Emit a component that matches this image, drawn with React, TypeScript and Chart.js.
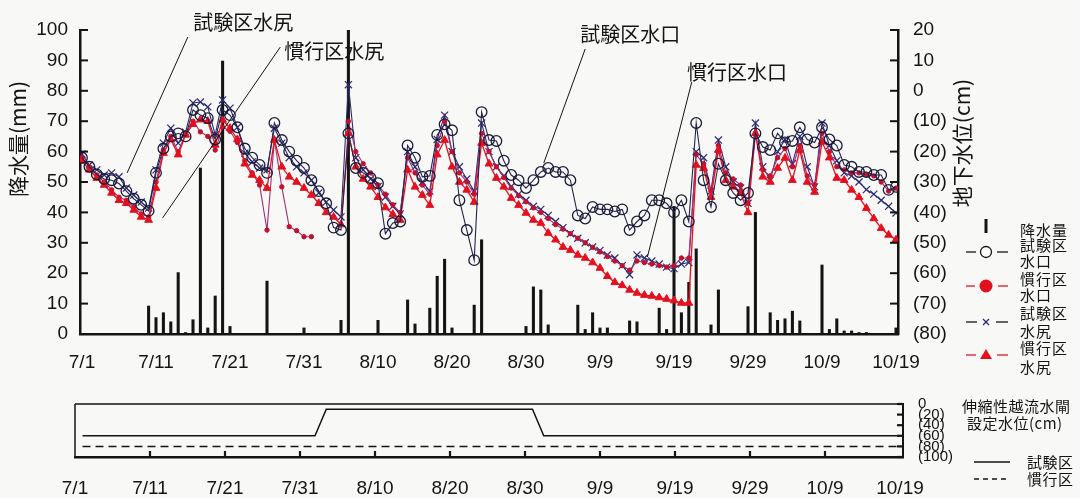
import React, { useEffect, useRef } from 'react';
import { Chart, registerables } from 'chart.js';

Chart.register(...registerables);

// ---------- data ----------
const TICK_DAYS = [0, 10, 20, 30, 40, 50, 60, 70, 80, 90, 100, 110];
const DATE_LABELS = ['7/1', '7/11', '7/21', '7/31', '8/10', '8/20', '8/30', '9/9', '9/19', '9/29', '10/9', '10/19'];

const RAIN_DAYS = [9, 10, 11, 12, 13, 14, 15, 16, 17, 18, 19, 20, 25, 30, 35, 36, 40, 44, 45, 47, 48, 49, 50, 53, 54, 60, 61, 62, 63, 67, 68, 69, 70, 71, 74, 75, 78, 79, 80, 81, 82, 83, 85, 86, 90, 91, 93, 94, 95, 96, 97, 100, 101, 102, 103, 104, 105, 106, 110];
const RAIN_MM = [9.2, 5.4, 7, 4, 20.2, 0.5, 4.7, 54.6, 2, 12.5, 89.8, 2.5, 17.4, 2, 4.5, 100, 4.5, 11.2, 3.3, 8.5, 19, 24.6, 2, 9.5, 31, 2.5, 15.5, 14.5, 3, 9.5, 1.5, 7, 2, 2, 4.3, 4, 8.5, 1.5, 42, 7, 17, 28, 3, 14.5, 9, 40, 7, 4.5, 5, 7.5, 4.3, 22.7, 1.5, 5, 1, 1, 0.5, 0.5, 2];

// groundwater level (cm), one value per day from 7/1 (day 0) to 10/19 (day 110)
const TEST_INLET = [
  -22, -25, -27.5, -29, -29.4, -30.5, -33, -35.5, -37.5, -39.5,
  -27, -19, -15, -14, -15, -6.3, -8, -9, -16, -6.3,
  -8, -12, -19, -22, -24.4, -27, -10.6, -16.2, -20, -23,
  -25.4, -29.4, -33, -37, -45, -45.8, -14, -25.4, -27, -28.7,
  -30.4, -47, -43.5, -43, -18, -22, -28.3, -28, -14.5, -11,
  -13, -36, -45.8, -55.7, -7, -16.2, -16.5, -23, -27.7, -29.4,
  -32, -29.4, -26.7, -25.4, -26.7, -26.7, -29.4, -41, -42, -38.2,
  -39, -39, -39.7, -39, -45.8, -43, -41, -36, -36, -37,
  -40, -36, -43, -10.6, -29.4, -38.2, -24, -29.4, -33.6, -36,
  -33.6, -14, -18.5, -19.5, -14, -17, -16.5, -12, -16, -17,
  -12, -16, -18, -24.4, -25, -26.7, -26.7, -27.7, -27.7, -32.6,
  -31.6,
];
const CONV_INLET = [
  -22, -25, -27.7, -30, -32.6, -35, -36, -38.2, -40.5, -41.5,
  -30, -19.5, -15, -20, -14, -10, -13.5, -15, -19.5, -12,
  -13.3, -17, -23, -27, -31, -45.8, -16.2, -31.6, -44.7, -46,
  -48, -48, null, null, null, null, -10, -20, -24, -27,
  -31, -34, -37.5, -40, -22, -27, -31, -34, -18, -10,
  -20, -27, -30, -34, -14, -20, -25, -28.5, -32, -34.5,
  -36.5, -38.5, -40, -42, -44, -45.5, -47, -48.5, -50, -51.5,
  -53, -54.5, -56, -57.5, -59, -56, -56.5, -57, -57.5, -58,
  -57.5, -55, -55, -21, -24, -33, -18, -27, -29, -31,
  -37, -14, -26, -28, -22, -19, -25, -18, -28, -31,
  -14, -20, -25, -26, -27, -27, -27.5, -28, -30, -33,
  -32,
];
const TEST_OUTLET = [
  -20.8, -24.4, -26, -27.7, -27, -28.3, -32, -34.3, -36.6, -38.6,
  -26, -17.2, -12.3, -17.2, -13.6, -4, -3.7, -5.3, -14.5, -3,
  -5.7, -12, -20.5, -23.4, -25.4, -26, -12.3, -17.2, -22, -25,
  -27, -29.4, -33.6, -36.6, -39.2, -41.5, 2, -22, -26, -29,
  -31.5, -35, -38, -40.5, -20, -25, -30, -33, -16, -8,
  -20, -25, -29, -33, -10.6, -20, -25, -28, -31.5, -34,
  -36, -38, -39, -41, -43, -45, -47, -48.5, -50, -51.4,
  -52.5, -54, -55, -57.5, -60.5, -54, -55, -56, -57, -58,
  -58.5, -57, -56.5, -20, -22, -33, -16.2, -25, -30, -32,
  -37, -10.6, -25, -29.4, -20, -16, -24, -15, -25, -31.6,
  -10.6, -18, -23, -27, -28, -30, -32.5, -34, -36, -38,
  -40.2,
];
const CONV_OUTLET = [
  -23, -26, -28.7, -31, -33.6, -36, -37, -39.2, -41.5, -42.5,
  -32, -20.5, -16, -21, -14.5, -11, -9.5, -10, -17.8, -9.6,
  -12.3, -16, -24, -27.7, -29.4, -32, -16.2, -25, -28.3, -30,
  -32, -34.3, -37, -40, -41.5, -44, -14, -25, -29, -31.6,
  -35, -38.4, -40.6, -42.5, -26, -31.6, -34.3, -37.6, -21, -16.2,
  -25, -30, -32.6, -36.6, -17.2, -24, -28.7, -31.6, -35.3, -37.6,
  -40.2, -42.5, -43.5, -46.8, -49, -51.4, -52.4, -54, -55, -56.5,
  -58.3, -61, -63, -64, -65.5, -66.5, -67.2, -67.5, -68, -68.5,
  -69, -69.8, -69.8, -24.4, -25.5, -35, -19.5, -29.4, -31.6, -33.6,
  -40, -14, -28.3, -30, -25.4, -22.1, -29.4, -19.5, -30, -33.3,
  -16.8, -22, -28.7, -29.4, -32.6, -35, -38.6, -42, -45.2, -47.4,
  -49,
];

const RAIN_TICKS = [0, 10, 20, 30, 40, 50, 60, 70, 80, 90, 100];
const GW_TICKS = [20, 10, 0, -10, -20, -30, -40, -50, -60, -70, -80];

// weir set level (cm below)
const GATE_TEST_DAYS = [1, 32, 33.5, 61, 62.5, 110];
const GATE_TEST_CM = [60, 60, 10, 10, 60, 60];
const GATE_CONV_DAYS = [1, 110];
const GATE_CONV_CM = [80, 80];
const GATE_TICKS = [0, 20, 40, 60, 80, 100];

// annotations: label position and leader line in data units (day, cm)
const ANNOTATIONS = [
  { text: '試験区水尻', tx: 21.8, ty: 22.6, x1: 14.3, y1: 17.7, x2: 6.1, y2: -27 },
  { text: '慣行区水尻', tx: 34.1, ty: 12.8, x1: 26.8, y1: 14.4, x2: 10.9, y2: -41.8 },
  { text: '試験区水口', tx: 74.1, ty: 18.4, x1: 68, y1: 13.75, x2: 62.4, y2: -23.75 },
  { text: '慣行区水口', tx: 88.5, ty: 5.9, x1: 82.4, y1: 2.9, x2: 76.4, y2: -54.7 },
];

// ---------- helpers ----------
const NUM_FONT = '"Liberation Sans", Arial, sans-serif';
const JP_FONT = '"Noto Sans CJK JP", "Noto Sans", sans-serif';
const INK = '#141414';
const RED = '#e3101f';
const NAVY = '#2a2a70';
const MAGENTA = '#a02f78';

const toPoints = (arr: (number | null)[]) => arr.map((v, i) => ({ x: i, y: v }));
const dayLabel = (v: number) => {
  const i = TICK_DAYS.indexOf(v);
  return i >= 0 ? DATE_LABELS[i] : '';
};
const setTicks = (values: number[]) => (scale: any) => {
  scale.ticks = values.map((v) => ({ value: v }));
};

function seg(ctx: CanvasRenderingContext2D, x1: number, y1: number, x2: number, y2: number) {
  ctx.beginPath();
  ctx.moveTo(x1, y1);
  ctx.lineTo(x2, y2);
  ctx.stroke();
}

function spaced(ctx: any, px: number) {
  if ('letterSpacing' in ctx) ctx.letterSpacing = px + 'px';
}

const mainDecor = {
  id: 'mainDecor',
  afterDraw(chart: any) {
    const { ctx, chartArea: ca, scales } = chart;
    const x = scales.x, yL = scales.yL, yR = scales.yR;
    ctx.save();
    ctx.strokeStyle = INK;
    ctx.lineWidth = 2;
    RAIN_TICKS.forEach((v) => {
      const py = yL.getPixelForValue(v);
      seg(ctx, ca.left, py, ca.left + 8, py);
    });
    GW_TICKS.forEach((v) => {
      const py = yR.getPixelForValue(v);
      seg(ctx, ca.right - 8, py, ca.right, py);
    });

    // axis titles
    ctx.fillStyle = INK;
    ctx.font = `21px ${JP_FONT}`;
    ctx.textAlign = 'center';
    ctx.textBaseline = 'middle';
    ctx.save();
    ctx.translate(18, 139);
    ctx.rotate(-Math.PI / 2);
    ctx.fillText('降水量(mm)', 0, 0);
    ctx.restore();
    ctx.save();
    ctx.translate(962, 143);
    ctx.rotate(-Math.PI / 2);
    ctx.fillText('地下水位(cm)', 0, 0);
    ctx.restore();

    // annotations
    ctx.lineWidth = 1;
    ctx.font = `20px ${JP_FONT}`;
    ANNOTATIONS.forEach((a) => {
      seg(ctx, x.getPixelForValue(a.x1), yR.getPixelForValue(a.y1), x.getPixelForValue(a.x2), yR.getPixelForValue(a.y2));
      ctx.fillText(a.text, x.getPixelForValue(a.tx), yR.getPixelForValue(a.ty));
    });

    // legend
    const cx = 986;
    ctx.fillRect(cx - 1.5, 219, 3, 14);
    ctx.lineWidth = 1.3;
    // test inlet
    ctx.strokeStyle = INK;
    seg(ctx, 966, 252, 976, 252);
    seg(ctx, 997, 252, 1008, 252);
    ctx.beginPath();
    ctx.arc(cx, 252, 5.5, 0, Math.PI * 2);
    ctx.fillStyle = '#ffffff';
    ctx.fill();
    ctx.stroke();
    // conv inlet
    ctx.strokeStyle = RED;
    seg(ctx, 966, 286, 975, 286);
    seg(ctx, 998, 286, 1008, 286);
    ctx.beginPath();
    ctx.arc(cx, 286, 6.5, 0, Math.PI * 2);
    ctx.fillStyle = RED;
    ctx.fill();
    // test outlet
    ctx.strokeStyle = INK;
    seg(ctx, 966, 322, 977, 322);
    seg(ctx, 996, 322, 1008, 322);
    ctx.strokeStyle = NAVY;
    seg(ctx, cx - 3, 319, cx + 3, 325);
    seg(ctx, cx - 3, 325, cx + 3, 319);
    // conv outlet
    ctx.strokeStyle = RED;
    seg(ctx, 966, 355, 976, 355);
    seg(ctx, 997, 355, 1008, 355);
    ctx.beginPath();
    ctx.moveTo(cx, 349);
    ctx.lineTo(cx + 6, 359);
    ctx.lineTo(cx - 6, 359);
    ctx.closePath();
    ctx.fillStyle = RED;
    ctx.fill();

    ctx.fillStyle = INK;
    ctx.font = `15px ${JP_FONT}`;
    ctx.textAlign = 'left';
    spaced(ctx, 1);
    const items: [string, number][] = [
      ['降水量', 230], ['試験区', 245], ['水口', 261], ['慣行区', 279], ['水口', 295],
      ['試験区', 313], ['水尻', 331], ['慣行区', 348], ['水尻', 367],
    ];
    items.forEach(([t, y]) => ctx.fillText(t, 1020, y));
    ctx.restore();
  },
};

const gateDecor = {
  id: 'gateDecor',
  afterDraw(chart: any) {
    const { ctx, chartArea: ca, scales } = chart;
    const x = scales.x, y = scales.y;
    ctx.save();
    ctx.strokeStyle = INK;
    ctx.lineWidth = 1.5;
    seg(ctx, ca.left, ca.top, ca.right, ca.top);
    seg(ctx, ca.left, ca.top, ca.left, ca.bottom);
    ctx.lineWidth = 2.2;
    TICK_DAYS.slice(1, -1).forEach((d) => {
      const px = x.getPixelForValue(d);
      seg(ctx, px, ca.bottom, px, ca.bottom - 6);
    });
    GATE_TICKS.forEach((v) => {
      const py = y.getPixelForValue(v);
      seg(ctx, ca.right - 6, py, ca.right, py);
    });

    // legend
    ctx.fillStyle = INK;
    ctx.font = `15px ${JP_FONT}`;
    ctx.textAlign = 'left';
    ctx.textBaseline = 'middle';
    spaced(ctx, 0.5);
    ctx.fillText('伸縮性越流水閘', 962, 26);
    ctx.fillText('設定水位(cm)', 967, 43);
    ctx.fillText('試験区', 1027, 82);
    ctx.fillText('慣行区', 1027, 99);
    ctx.lineWidth = 1.4;
    seg(ctx, 974, 82, 1010, 82);
    ctx.setLineDash([5, 4]);
    seg(ctx, 974, 99, 1010, 99);
    ctx.restore();
  },
};

function MainChart() {
  const ref = useRef<HTMLCanvasElement>(null);
  useEffect(() => {
    const chart = new Chart(ref.current as HTMLCanvasElement, {
      type: 'line',
      data: {
        datasets: [
          {
            type: 'line',
            label: '試験区水口',
            data: toPoints(TEST_INLET),
            yAxisID: 'yR',
            borderColor: '#24244c',
            borderWidth: 1.1,
            pointStyle: 'circle',
            pointRadius: 5.3,
            pointBorderColor: '#1a1a38',
            pointBackgroundColor: 'rgba(255,255,255,0)',
            pointBorderWidth: 1.3,
            tension: 0,
            spanGaps: false,
            order: 1,
          },
          {
            type: 'line',
            label: '慣行区水尻',
            data: toPoints(CONV_OUTLET),
            yAxisID: 'yR',
            borderColor: RED,
            borderWidth: 1.3,
            pointStyle: 'triangle',
            pointRadius: 4.5,
            pointBorderColor: RED,
            pointBackgroundColor: RED,
            pointBorderWidth: 1,
            tension: 0,
            order: 2,
          },
          {
            type: 'line',
            label: '慣行区水口',
            data: toPoints(CONV_INLET),
            yAxisID: 'yR',
            borderColor: MAGENTA,
            borderWidth: 1.1,
            pointStyle: 'circle',
            pointRadius: 2.2,
            pointBorderColor: '#b3122e',
            pointBackgroundColor: '#c8102e',
            pointBorderWidth: 1,
            tension: 0,
            spanGaps: false,
            order: 3,
          },
          {
            type: 'line',
            label: '試験区水尻',
            data: toPoints(TEST_OUTLET),
            yAxisID: 'yR',
            borderColor: NAVY,
            borderWidth: 1.1,
            pointStyle: 'crossRot',
            pointRadius: 5,
            pointBorderColor: NAVY,
            pointBorderWidth: 1.2,
            tension: 0,
            order: 4,
          },
          {
            type: 'bar',
            label: '降水量',
            data: RAIN_DAYS.map((d, i) => ({ x: d, y: RAIN_MM[i] })),
            yAxisID: 'yL',
            backgroundColor: INK,
            barThickness: 2.4,
            order: 5,
          } as any,
        ],
      },
      options: {
        responsive: false,
        animation: false,
        events: [],
        layout: { padding: { top: 30, left: 0, right: 0, bottom: 0 } },
        plugins: { legend: { display: false }, tooltip: { enabled: false } },
        scales: {
          x: {
            type: 'linear',
            position: 'bottom',
            min: -0.27,
            max: 110.27,
            offset: false,
            afterBuildTicks: setTicks(TICK_DAYS),
            afterFit: (s: any) => { s.height = 46; },
            grid: { display: false, drawTicks: false },
            border: { display: true, width: 2.5, color: INK },
            ticks: {
              autoSkip: false,
              maxRotation: 0,
              padding: 17,
              color: INK,
              font: { family: NUM_FONT, size: 19 },
              callback: (v: any) => dayLabel(Number(v)),
            },
          },
          yL: {
            type: 'linear',
            position: 'left',
            min: 0,
            max: 100,
            afterBuildTicks: setTicks(RAIN_TICKS),
            afterFit: (s: any) => { s.width = 80; },
            grid: { display: false, drawTicks: false },
            border: { display: true, width: 2.5, color: INK },
            ticks: {
              autoSkip: false,
              padding: 12,
              color: INK,
              font: { family: NUM_FONT, size: 19 },
            },
          },
          yR: {
            type: 'linear',
            position: 'right',
            min: -80,
            max: 20,
            afterBuildTicks: setTicks(GW_TICKS),
            afterFit: (s: any) => { s.width = 182; },
            grid: { display: false, drawTicks: false },
            border: { display: true, width: 2.5, color: INK },
            ticks: {
              autoSkip: false,
              padding: 15,
              color: INK,
              font: { family: NUM_FONT, size: 19 },
              callback: (v: any) => (Number(v) < 0 ? `(${-Number(v)})` : String(v)),
            },
          },
        },
      },
      plugins: [mainDecor],
    } as any);
    return () => chart.destroy();
  }, []);
  return <canvas ref={ref} width={1080} height={380} style={{ position: 'absolute', left: 0, top: 0 }} />;
}

function GateChart() {
  const ref = useRef<HTMLCanvasElement>(null);
  useEffect(() => {
    const chart = new Chart(ref.current as HTMLCanvasElement, {
      type: 'line',
      data: {
        datasets: [
          {
            label: '試験区',
            data: GATE_TEST_DAYS.map((d, i) => ({ x: d, y: GATE_TEST_CM[i] })),
            borderColor: INK,
            borderWidth: 1.5,
            pointRadius: 0,
            tension: 0,
          },
          {
            label: '慣行区',
            data: GATE_CONV_DAYS.map((d, i) => ({ x: d, y: GATE_CONV_CM[i] })),
            borderColor: INK,
            borderWidth: 1.5,
            borderDash: [8, 5],
            pointRadius: 0,
            tension: 0,
          },
        ],
      },
      options: {
        responsive: false,
        animation: false,
        events: [],
        layout: { padding: { top: 19, left: 75, right: 0, bottom: 0 } },
        plugins: { legend: { display: false }, tooltip: { enabled: false } },
        scales: {
          x: {
            type: 'linear',
            position: 'bottom',
            min: 0,
            max: 110.4,
            offset: false,
            afterBuildTicks: setTicks(TICK_DAYS),
            afterFit: (s: any) => { s.height = 41; },
            grid: { display: false, drawTicks: false },
            border: { display: true, width: 2.5, color: INK },
            ticks: {
              autoSkip: false,
              maxRotation: 0,
              padding: 20,
              color: INK,
              font: { family: NUM_FONT, size: 19 },
              callback: (v: any) => dayLabel(Number(v)),
            },
          },
          y: {
            type: 'linear',
            position: 'right',
            reverse: true,
            min: 0,
            max: 100,
            afterBuildTicks: setTicks(GATE_TICKS),
            afterFit: (s: any) => { s.width = 177; },
            grid: { display: false, drawTicks: false },
            border: { display: true, width: 2, color: INK },
            ticks: {
              autoSkip: false,
              padding: 15,
              color: INK,
              font: { family: NUM_FONT, size: 15 },
              callback: (v: any) => (Number(v) === 0 ? '0' : `(${v})`),
            },
          },
        },
      },
      plugins: [gateDecor],
    } as any);
    return () => chart.destroy();
  }, []);
  return <canvas ref={ref} width={1080} height={118} style={{ position: 'absolute', left: 0, top: 380 }} />;
}

export default function App() {
  return (
    <div style={{ position: 'fixed', left: 0, top: 0, width: 1080, height: 498, background: '#f8f8f6', overflow: 'hidden' }}>
      <MainChart />
      <GateChart />
    </div>
  );
}
